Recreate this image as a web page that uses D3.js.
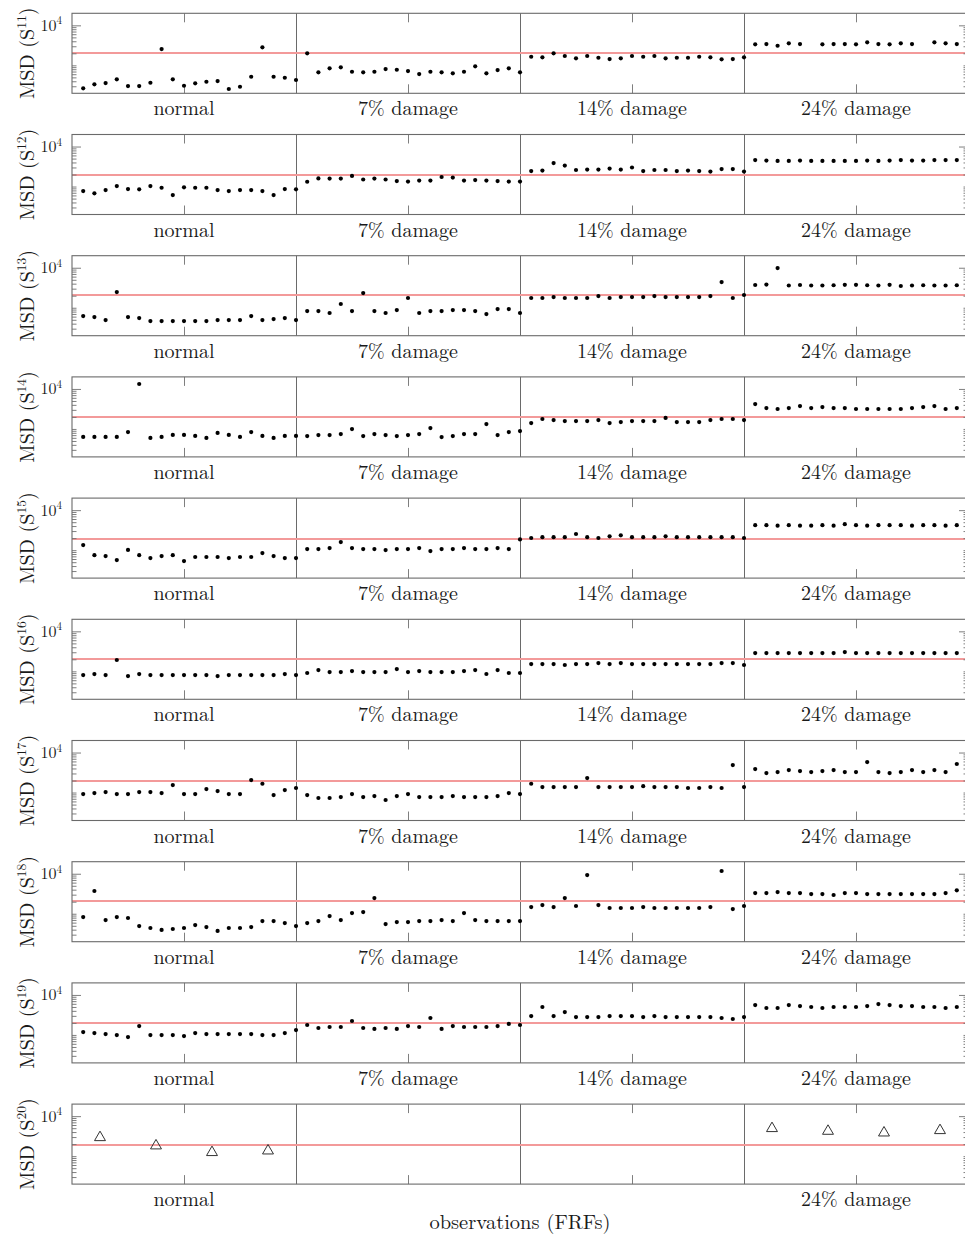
<!DOCTYPE html>
<html>
<head>
<meta charset="utf-8">
<script src="https://cdn.jsdelivr.net/npm/d3@7"></script>
<style>
  html, body { margin: 0; padding: 0; background: #fff; }
  svg { display: block; }
  text { font-family: "Latin Modern Roman", "CMU Serif", "Liberation Serif", serif; fill: #1a1a1a; }
</style>
</head>
<body>
<svg id="chart" width="965" height="1237"></svg>
<script>
// ---------- data ----------
const categories = ["normal", "7% damage", "14% damage", "24% damage"];
const lastPanelCategories = ["normal", "", "", "24% damage"];
const sensors = ["11", "12", "13", "14", "15", "16", "17", "18", "19", "20"];
const thresholds = [2000, 2050, 2070, 2100, 2050, 2030, 2050, 2050, 2050, 2070];
const yTickMajor = [10000];
const yTickMinor = [300, 400, 500, 600, 700, 800, 900, 1000, 2000, 3000, 4000, 5000, 6000, 7000, 8000, 9000];

// 80 observations per sensor: 20 normal, 20 x 7%, 20 x 14%, 20 x 24% (null = not shown)
const s11 = [266, 335, 361, 447, 304, 304, 367, 2556, 447, 309, 355, 389, 405, 256, 292, 519, 2818, 519, 490, 430,
  2000, 668, 841, 891, 692, 668, 692, 808, 775, 720, 606, 692, 668, 631, 692, 944, 631, 762, 841, 668,
  1640, 1585, 2000, 1710, 1500, 1710, 1550, 1435, 1500, 1710, 1640, 1710, 1500, 1550, 1550, 1640, 1585, 1410, 1435, 1585,
  3350, 3410, 3090, 3550, 3410, null, 3350, 3410, 3410, 3350, 3760, 3410, 3350, 3550, 3410, null, 3760, 3550, 3410, 3400];
const s12 = [772, 676, 818, 1030, 866, 851, 1030, 933, 613, 955, 933, 933, 818, 772, 818, 818, 772, 613, 866, 851,
  1318, 1600, 1585, 1585, 1840, 1500, 1585, 1500, 1370, 1330, 1410, 1410, 1730, 1680, 1410, 1450, 1410, 1370, 1330, 1330,
  2440, 2510, 3870, 3350, 2590, 2660, 2660, 2820, 2660, 2990, 2440, 2590, 2590, 2440, 2510, 2440, 2370, 2740, 2740, 2370,
  4580, 4470, 4370, 4370, 4470, 4370, 4370, 4370, 4370, 4370, 4470, 4370, 4470, 4580, 4470, 4470, 4580, 4580, 4580, 4700];
const s13 = [620, 585, 492, 2470, 585, 553, 464, 464, 464, 464, 464, 464, 492, 492, 492, 620, 492, 521, 553, 492,
  827, 827, 738, 1240, 827, 2330, 827, 738, 876, 1750, 738, 827, 827, 876, 876, 827, 696, 928, 928, 738,
  1750, 1750, 1850, 1750, 1750, 1750, 1960, 1750, 1850, 1850, 1850, 1960, 1850, 1850, 1850, 1850, 1960, 4390, 1750, 2080,
  3700, 3800, 9800, 3600, 3700, 3600, 3600, 3650, 3750, 3750, 3650, 3600, 3750, 3500, 3600, 3650, 3600, 3600, 3650, 3600];
const s14 = [631, 631, 631, 631, 836, 13300, 596, 631, 708, 708, 668, 596, 794, 708, 631, 836, 668, 596, 668, 668,
  662, 702, 702, 746, 994, 662, 746, 702, 662, 702, 746, 1053, 627, 662, 746, 746, 1327, 702, 836, 885,
  1405, 1770, 1670, 1577, 1577, 1577, 1670, 1405, 1488, 1577, 1577, 1577, 1880, 1488, 1488, 1488, 1670, 1770, 1770, 1670,
  4190, 3330, 3150, 3330, 3730, 3330, 3520, 3330, 3330, 3150, 3150, 3150, 3150, 3150, 3330, 3520, 3730, 3150, 3330, 3330];
const s15 = [1340, 750, 712, 564, 1010, 750, 633, 712, 750, 533, 673, 673, 673, 633, 673, 673, 845, 712, 633, 633,
  1065, 1065, 1129, 1593, 1129, 1065, 1065, 1006, 1065, 1065, 1129, 949, 1065, 1065, 1129, 1065, 1065, 1129, 1065, 1850,
  2010, 2110, 2110, 2110, 2530, 2110, 2010, 2220, 2340, 2110, 2110, 2110, 2220, 2110, 2110, 2110, 2110, 2110, 2110, 2010,
  4220, 4220, 4100, 4220, 4100, 4100, 4220, 4100, 4460, 4220, 4100, 4220, 4220, 4220, 4100, 4220, 4220, 4100, 4220, 4220];
const s16 = [808, 855, 808, 1920, 760, 855, 808, 808, 808, 808, 808, 808, 760, 808, 808, 808, 808, 808, 855, 808,
  909, 1077, 960, 960, 1017, 960, 960, 960, 1140, 960, 1017, 960, 960, 960, 1017, 1077, 857, 1077, 909, 909,
  1520, 1520, 1520, 1440, 1520, 1520, 1610, 1520, 1610, 1520, 1520, 1520, 1520, 1520, 1520, 1520, 1520, 1610, 1610, 1440,
  2870, 2870, 2870, 2870, 2870, 2870, 2870, 2870, 3030, 2870, 2870, 2870, 2870, 2870, 2870, 2870, 2870, 2870, 2870, 2870];
const s17 = [917, 971, 1030, 917, 917, 1030, 1030, 971, 1540, 917, 917, 1220, 1090, 917, 917, 2050, 1660, 866, 1155, 1300,
  866, 730, 730, 772, 917, 772, 818, 650, 818, 917, 772, 772, 772, 818, 772, 772, 772, 818, 971, 917,
  1660, 1370, 1370, 1370, 1370, 2300, 1370, 1370, 1370, 1370, 1440, 1370, 1370, 1370, 1300, 1300, 1370, 1300, 4870, 1370,
  3870, 3070, 3240, 3650, 3450, 3240, 3450, 3650, 3240, 3240, 5780, 3240, 3070, 3240, 3650, 3240, 3650, 3240, 5170, 3400];
const s18 = [827, 3700, 696, 827, 782, 492, 440, 393, 415, 440, 520, 464, 371, 440, 440, 464, 657, 657, 585, 492,
  585, 657, 876, 696, 1040, 1100, 2470, 553, 620, 620, 657, 657, 696, 657, 1040, 696, 657, 657, 657, 657,
  1470, 1650, 1470, 2470, 1560, 9280, 1650, 1390, 1390, 1390, 1470, 1390, 1390, 1390, 1390, 1390, 1470, 11700, 1310, 1560,
  3290, 3290, 3480, 3290, 3290, 3110, 3110, 2940, 3290, 3290, 3110, 3110, 3110, 3110, 3110, 3110, 3110, 3290, 3840, 3500];
const s19 = [1180, 1116, 1053, 994, 885, 1670, 994, 994, 994, 939, 1116, 1053, 1053, 1053, 1053, 1053, 994, 994, 1116, 1327,
  1770, 1490, 1580, 1580, 2230, 1490, 1410, 1490, 1410, 1670, 1580, 2650, 1410, 1670, 1580, 1580, 1580, 1670, 1880, 1770,
  2960, 4990, 2960, 3730, 2800, 2800, 2800, 2960, 2960, 2960, 2800, 2960, 2800, 2800, 2800, 2800, 2800, 2650, 2500, 2800,
  5590, 4710, 4710, 5590, 5280, 4990, 4710, 4990, 4990, 4990, 5280, 5920, 5590, 5280, 5280, 4990, 4990, 4710, 4990, 4990];
// sensor 20: averaged observations (triangles)
const s20x = [2.5, 7.5, 12.5, 17.5, 62.5, 67.5, 72.5, 77.5];
const s20 = [2930, 1820, 1240, 1360, 4930, 4220, 3830, 4390];

const dotSeries = [s11, s12, s13, s14, s15, s16, s17, s18, s19];

// ---------- layout ----------
const svg = d3.select("#chart");
const left = 72, right = 968;
const panelTop0 = 13.3, panelStep = 121.2, panelH = 80;
const nObs = 80;

const x = d3.scaleLinear().domain([0, nObs]).range([left, right]);
const groupCenters = [10, 30, 50, 70];
const separators = [20, 40, 60];

for (let p = 0; p < 10; p++) {
  const top = panelTop0 + p * panelStep;
  const bottom = top + panelH;
  const y = d3.scaleLog().domain([200, 20000]).range([bottom, top]);
  const g = svg.append("g");

  // group separators
  g.selectAll("line.sep").data(separators).join("line")
    .attr("class", "sep")
    .attr("x1", d => Math.round(x(d)) + 0.5).attr("x2", d => Math.round(x(d)) + 0.5)
    .attr("y1", top).attr("y2", bottom)
    .attr("stroke", "#6a6a6a").attr("stroke-width", 1);

  // threshold: thin light-red line spanning an aligned pixel pair
  const row = Math.round(y(thresholds[p]));
  const r0 = row - (row % 2);
  g.append("line")
    .attr("x1", left).attr("x2", right)
    .attr("y1", r0 + 1).attr("y2", r0 + 1)
    .attr("stroke", "#f39a9a").attr("stroke-width", 2);

  // axes (ticks pointing inward)
  const styleAxis = sel => {
    sel.select(".domain").remove();
    sel.selectAll(".tick line").attr("stroke", "#707070").attr("stroke-width", 0.9);
  };
  g.append("g").attr("transform", `translate(${left},0)`)
    .call(d3.axisLeft(y).tickValues(yTickMinor).tickSize(-4.5).tickFormat(""))
    .call(styleAxis);
  g.append("g").attr("transform", `translate(${left},0)`)
    .call(d3.axisLeft(y).tickValues(yTickMajor).tickSize(-9).tickFormat(""))
    .call(styleAxis);
  g.append("g").attr("transform", `translate(${right},0)`)
    .call(d3.axisRight(y).tickValues(yTickMinor).tickSize(-4.5).tickFormat(""))
    .call(styleAxis);
  g.append("g").attr("transform", `translate(${right},0)`)
    .call(d3.axisRight(y).tickValues(yTickMajor).tickSize(-9).tickFormat(""))
    .call(styleAxis);
  g.append("g").attr("transform", `translate(0,${bottom})`)
    .call(d3.axisBottom(x).tickValues(groupCenters).tickSize(-9).tickFormat(""))
    .call(styleAxis);
  g.append("g").attr("transform", `translate(0,${top})`)
    .call(d3.axisTop(x).tickValues(groupCenters).tickSize(-9).tickFormat(""))
    .call(styleAxis);

  // box
  g.append("rect")
    .attr("x", left).attr("y", top)
    .attr("width", right - left).attr("height", panelH)
    .attr("fill", "none").attr("stroke", "#6a6a6a").attr("stroke-width", 1.1);

  // y tick label 10^4
  yTickMajor.forEach(v => {
    const t = g.append("text")
      .attr("x", 62).attr("y", y(v) + 5.5)
      .attr("text-anchor", "end")
      .style("font-size", "16px");
    t.append("tspan").text("10");
    t.append("tspan").attr("dy", -6.5).style("font-size", "11px").text(String(Math.round(Math.log10(v))));
  });

  // y label
  const cy = (top + bottom) / 2;
  const yl = g.append("text")
    .attr("transform", `translate(34,${cy}) rotate(-90)`)
    .attr("text-anchor", "middle")
    .style("font-size", "20px");
  yl.append("tspan").text("MSD (S");
  yl.append("tspan").attr("dy", -8).style("font-size", "13.5px").text(sensors[p]);
  yl.append("tspan").attr("dy", 8).text(")");

  // category labels
  const cats = p === 9 ? lastPanelCategories : categories;
  g.selectAll("text.cat").data(cats).join("text")
    .attr("class", "cat")
    .attr("x", (d, i) => x(groupCenters[i]))
    .attr("y", bottom + 22)
    .attr("text-anchor", "middle")
    .style("font-size", "20px")
    .text(d => d);

  // marks
  if (p < 9) {
    const data = dotSeries[p].map((v, i) => ({ i: i + 1, v })).filter(d => d.v != null);
    g.selectAll("circle").data(data).join("circle")
      .attr("cx", d => x(d.i)).attr("cy", d => y(d.v))
      .attr("r", 2.1).attr("fill", "#000");
  } else {
    const tri = d3.symbol().type(d3.symbolTriangle).size(52);
    const data = s20.map((v, i) => ({ i: s20x[i], v }));
    g.selectAll("path.tri").data(data).join("path")
      .attr("class", "tri")
      .attr("d", tri)
      .attr("transform", d => `translate(${x(d.i)},${y(d.v)})`)
      .attr("fill", "none").attr("stroke", "#333").attr("stroke-width", 1);
  }
}

// x title
svg.append("text")
  .attr("x", x(40)).attr("y", 1229)
  .attr("text-anchor", "middle")
  .style("font-size", "20.5px")
  .text("observations (FRFs)");
</script>
</body>
</html>
